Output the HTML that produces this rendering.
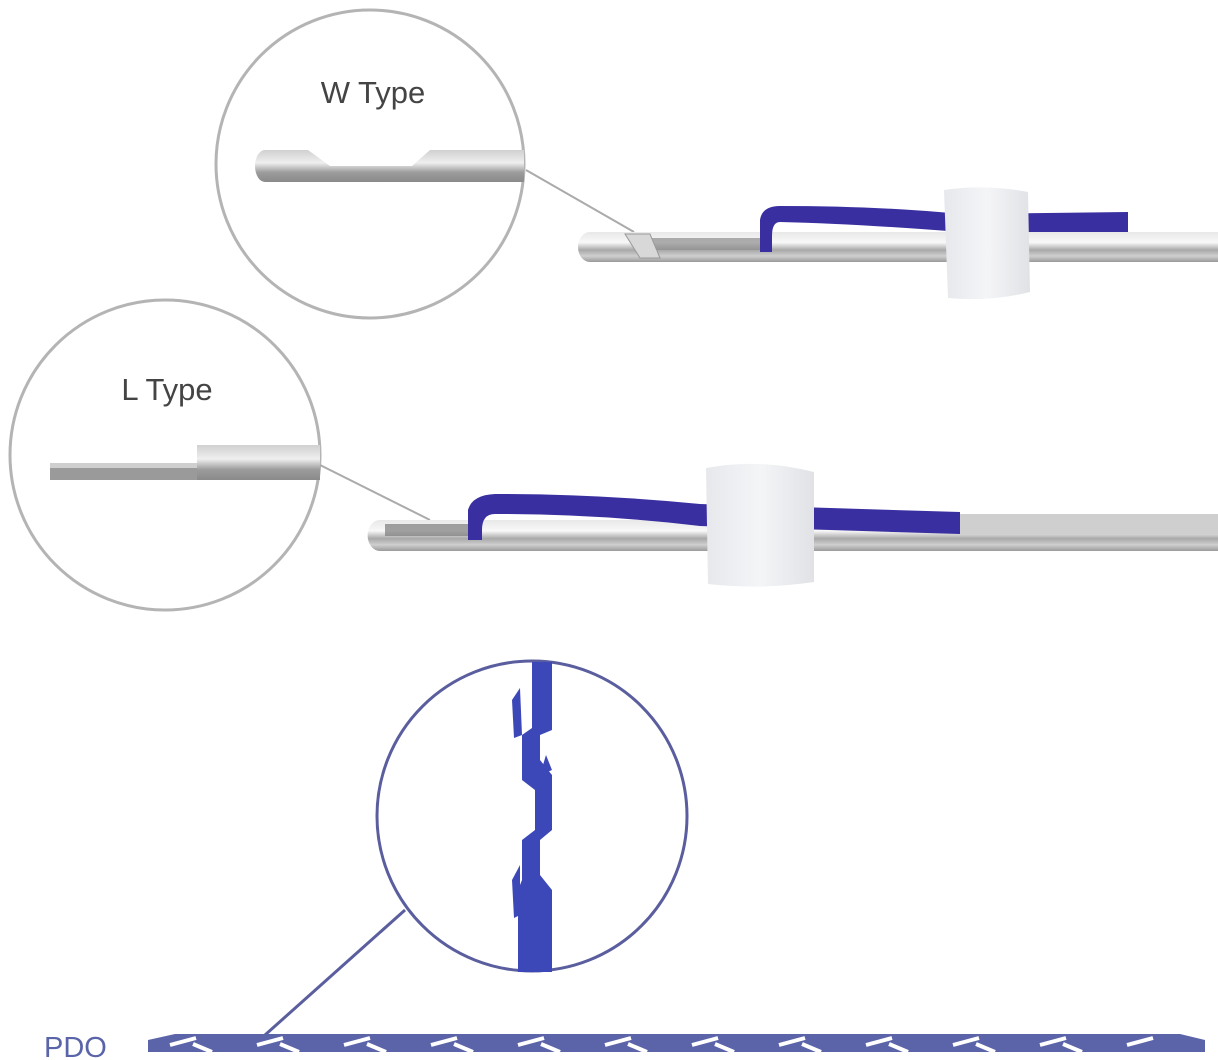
<!DOCTYPE html>
<html><head><meta charset="utf-8"><style>
html,body{margin:0;padding:0;background:#fff;}
svg{display:block;}
text{font-family:"Liberation Sans",sans-serif;}
</style></head><body>
<svg width="1218" height="1060" viewBox="0 0 1218 1060" xmlns="http://www.w3.org/2000/svg">
<defs>
<linearGradient id="metal" x1="0" y1="0" x2="0" y2="1">
<stop offset="0" stop-color="#e8e8e8"/><stop offset="0.35" stop-color="#f8f8f8"/><stop offset="0.6" stop-color="#a8a8a8"/><stop offset="0.8" stop-color="#cfcfcf"/><stop offset="1" stop-color="#9a9a9a"/>
</linearGradient>
<linearGradient id="metal2" x1="0" y1="0" x2="0" y2="1">
<stop offset="0" stop-color="#d0d0d0"/><stop offset="0.4" stop-color="#efefef"/><stop offset="0.7" stop-color="#9c9c9c"/><stop offset="1" stop-color="#8a8a8a"/>
</linearGradient>
<linearGradient id="sleeve" x1="0" y1="0" x2="1" y2="0">
<stop offset="0" stop-color="#e6e8ec"/><stop offset="0.5" stop-color="#f4f5f7"/><stop offset="1" stop-color="#e0e2e6"/>
</linearGradient>
</defs>

<!-- W circle -->
<circle cx="370" cy="164" r="154" fill="#fff" stroke="#b4b4b4" stroke-width="3"/>
<text x="373" y="103" font-size="31" fill="#444" text-anchor="middle">W Type</text>
<path d="M265 150 H308 L330 166 H412 L430 150 H524 V182 H265 A10 16 0 0 1 265 150 Z" fill="url(#metal2)"/>
<line x1="526" y1="170" x2="634" y2="232" stroke="#aaa" stroke-width="2"/>

<!-- needle 1 -->
<path d="M590 232 H1218 V262 H590 A12 15 0 0 1 590 232 Z" fill="url(#metal)"/>
<rect x="640" y="238" width="120" height="12" fill="#8c8c8c" opacity="0.7"/>
<path d="M625 234 L650 234 L660 258 L640 258 Z" fill="#d8d8d8" stroke="#999" stroke-width="1"/>
<path d="M760 252 L760 220 Q762 206 780 206 Q880 206 960 214 L1128 212 L1128 232 L960 232 Q860 224 780 222 Q772 222 772 236 L772 252 Z" fill="#3a2fa0"/>
<path d="M944 190 Q985 184 1028 192 L1030 292 Q990 302 948 298 Z" fill="url(#sleeve)"/>

<!-- L circle -->
<circle cx="165" cy="455" r="155" fill="#fff" stroke="#b4b4b4" stroke-width="3"/>
<text x="167" y="400" font-size="31" fill="#444" text-anchor="middle">L Type</text>
<path d="M197 445 H320 V480 H197 Z" fill="url(#metal2)"/>
<path d="M50 463 H197 V480 H50 Z" fill="#9a9a9a"/>
<rect x="50" y="463" width="147" height="5" fill="#cfcfcf"/>
<line x1="320" y1="465" x2="430" y2="520" stroke="#aaa" stroke-width="2"/>

<!-- needle 2 -->
<path d="M380 520 H1218 V551 H380 A12 15 0 0 1 380 520 Z" fill="url(#metal)"/>
<rect x="385" y="524" width="90" height="12" fill="#7a7a7a" opacity="0.7"/>
<rect x="960" y="514" width="258" height="20" fill="#cfcfcf"/>
<path d="M468 540 L468 510 Q472 495 495 494 Q600 494 700 504 L960 512 L960 534 L700 526 Q600 514 495 514 Q482 514 482 530 L482 540 Z" fill="#3a2fa0"/>
<path d="M706 468 Q760 458 814 472 L814 582 Q760 590 708 584 Z" fill="url(#sleeve)"/>

<!-- PDO circle -->
<circle cx="532" cy="816" r="155" fill="#fff" stroke="#5a5e9e" stroke-width="3"/>
<g fill="#3d48b8">
<path d="M532 662 H552 V730 L540 735 V760 L552 775 V830 L540 840 V875 L552 890 V972 H518 V890 L522 880 V840 L535 830 V790 L522 780 V735 L532 728 Z"/>
<path d="M512 700 L520 688 L522 735 L514 738 Z"/>
<path d="M540 775 L546 755 L552 770 Z"/>
<path d="M512 880 L520 865 L520 915 L514 918 Z"/>
</g>
<line x1="405" y1="910" x2="265" y2="1035" stroke="#5a5e9e" stroke-width="3"/>

<!-- PDO bar -->
<text x="44" y="1057" font-size="29" fill="#5a64a8">PDO</text>
<rect x="148" y="1034" width="1057" height="18" fill="#5b64a8"/>
<g fill="#fff">
<polygon points="148,1034 175,1034 148,1040"/>
<polygon points="1180,1034 1205,1034 1205,1040"/>
</g>
<g stroke="#fff" stroke-width="4">
<line x1="170" y1="1045" x2="196" y2="1038"/>
<line x1="193" y1="1044" x2="212" y2="1052"/>
<line x1="257" y1="1045" x2="283" y2="1038"/>
<line x1="280" y1="1044" x2="299" y2="1052"/>
<line x1="344" y1="1045" x2="370" y2="1038"/>
<line x1="367" y1="1044" x2="386" y2="1052"/>
<line x1="431" y1="1045" x2="457" y2="1038"/>
<line x1="454" y1="1044" x2="473" y2="1052"/>
<line x1="518" y1="1045" x2="544" y2="1038"/>
<line x1="541" y1="1044" x2="560" y2="1052"/>
<line x1="605" y1="1045" x2="631" y2="1038"/>
<line x1="628" y1="1044" x2="647" y2="1052"/>
<line x1="692" y1="1045" x2="718" y2="1038"/>
<line x1="715" y1="1044" x2="734" y2="1052"/>
<line x1="779" y1="1045" x2="805" y2="1038"/>
<line x1="802" y1="1044" x2="821" y2="1052"/>
<line x1="866" y1="1045" x2="892" y2="1038"/>
<line x1="889" y1="1044" x2="908" y2="1052"/>
<line x1="953" y1="1045" x2="979" y2="1038"/>
<line x1="976" y1="1044" x2="995" y2="1052"/>
<line x1="1040" y1="1045" x2="1066" y2="1038"/>
<line x1="1063" y1="1044" x2="1082" y2="1052"/>
<line x1="1127" y1="1045" x2="1153" y2="1038"/>
</g>
</svg>
</body></html>
